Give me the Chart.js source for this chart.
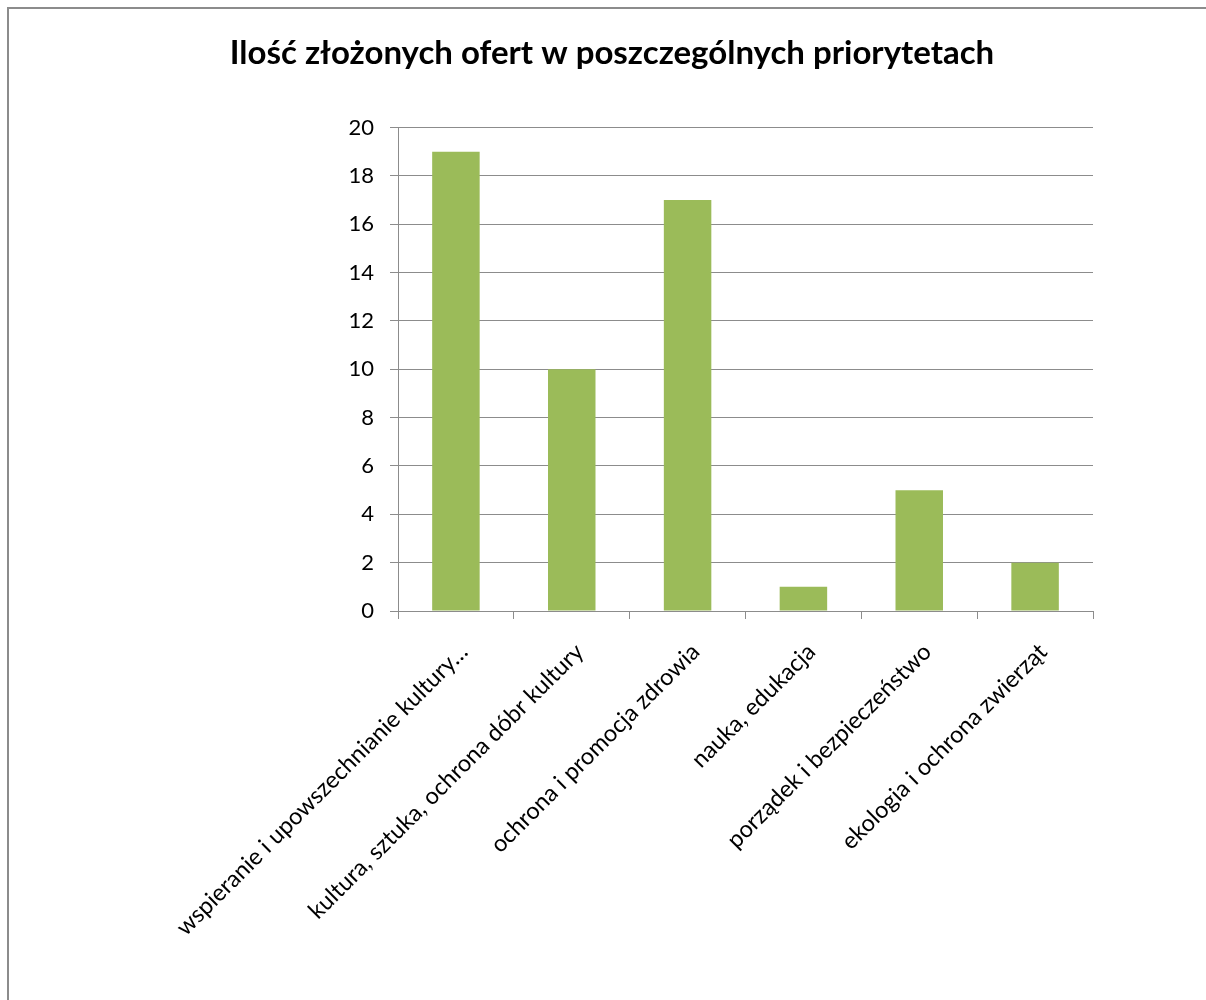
<!DOCTYPE html>
<html>
<head>
<meta charset="utf-8">
<script src="https://cdn.jsdelivr.net/npm/chart.js@4.4.0/dist/chart.umd.min.js"></script>
<style>
  html, body { margin: 0; padding: 0; background: #fff; overflow: hidden; }
  #wrap { position: relative; width: 1206px; height: 1000px; }
  #frame { position: absolute; left: 7px; top: 7px; width: 1300px; height: 1100px; border: 2px solid #8c8c8c; pointer-events: none; }
</style>
</head>
<body>
<div id="wrap">
  <canvas id="chart" width="1206" height="1000"></canvas>
  <div id="frame"></div>
</div>
<script>
const categories = [
  'wspieranie i upowszechnianie kultury…',
  'kultura, sztuka, ochrona dóbr kultury',
  'ochrona i promocja zdrowia',
  'nauka, edukacja',
  'porządek i bezpieczeństwo',
  'ekologia i ochrona zwierząt'
];
const offers = [19, 10, 17, 1, 5, 2];
const title = 'Ilość złożonych ofert w poszczególnych priorytetach';

const font = 'Lato, "Open Sans", sans-serif';

new Chart(document.getElementById('chart'), {
  type: 'bar',
  data: {
    labels: categories,
    datasets: [{
      data: offers,
      backgroundColor: '#9bbb59',
      barPercentage: 0.41,
      categoryPercentage: 1
    }]
  },
  options: {
    responsive: false,
    animation: false,
    layout: { padding: { left: 18, right: 0, top: 0, bottom: 0 } },
    plugins: {
      legend: { display: false },
      tooltip: { enabled: false },
      title: {
        display: true,
        text: title,
        color: '#000',
        font: { family: font, size: 33, weight: 'bold' },
        padding: { top: 34, bottom: 54 }
      }
    },
    scales: {
      x: {
        grid: { drawOnChartArea: false, offset: true, tickLength: 8, color: '#8c8c8c' },
        border: { color: '#8c8c8c' },
        ticks: {
          color: '#000',
          font: { family: font, size: 23.5 },
          minRotation: 45,
          maxRotation: 45,
          autoSkip: false,
          padding: 19,
          labelOffset: 8
        },
        afterFit: s => { s.height = 389; }
      },
      y: {
        min: 0,
        max: 20,
        grid: { color: '#8c8c8c', tickLength: 8 },
        border: { color: '#8c8c8c' },
        ticks: {
          stepSize: 2,
          color: '#000',
          font: { family: font, size: 22 },
          padding: 16
        },
        afterFit: s => { s.width = 380; }
      },
      pad: {
        position: 'right',
        grid: { display: false },
        border: { display: false },
        ticks: { display: false },
        afterFit: s => { s.width = 113; }
      }
    }
  }
});
</script>
</body>
</html>
